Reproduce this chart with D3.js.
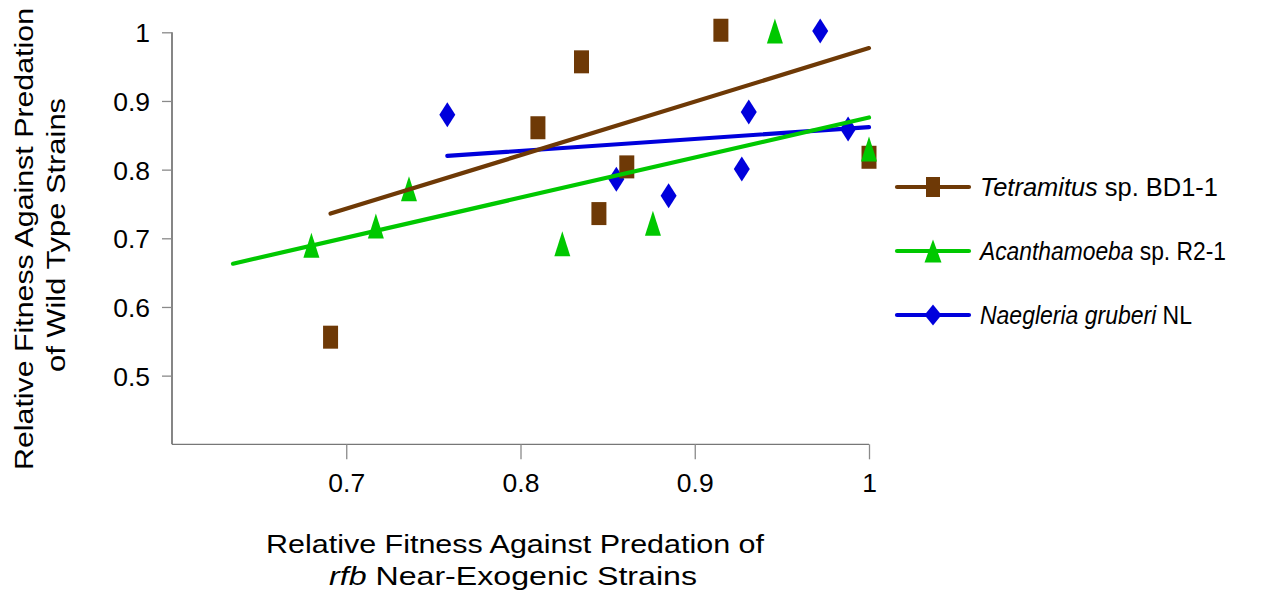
<!DOCTYPE html>
<html>
<head>
<meta charset="utf-8">
<script src="https://cdn.jsdelivr.net/npm/d3@7"></script>
<style>
  html, body { margin: 0; padding: 0; background: #fff; }
  svg { display: block; font-family: "Liberation Sans", Arial, Helvetica, sans-serif; }
</style>
</head>
<body>
<svg id="chart" width="1269" height="596"></svg>
<script>
// Relative fitness: x = against rfb near-exogenic strains, y = against wild type strains
const tetramitusX = [0.691, 0.810, 0.835, 0.915, 0.861, 0.845, 1.000];
const tetramitusY = [0.556, 0.861, 0.957, 1.003, 0.804, 0.736, 0.818];

const acanthamoebaX = [0.680, 0.717, 0.736, 0.824, 0.876, 0.946, 1.000];
const acanthamoebaY = [0.690, 0.718, 0.772, 0.692, 0.722, 1.002, 0.830];

const naegleriaX = [0.758, 0.855, 0.885, 0.927, 0.931, 0.972, 0.988];
const naegleriaY = [0.880, 0.786, 0.762, 0.801, 0.884, 1.002, 0.859];

// Linear trend lines (start and end of each fit)
const tetramitusFitX = [0.691, 1.000];
const tetramitusFitY = [0.736, 0.977];
const acanthamoebaFitX = [0.635, 1.000];
const acanthamoebaFitY = [0.663, 0.876];
const naegleriaFitX = [0.758, 1.000];
const naegleriaFitY = [0.820, 0.862];

const xTicks = [0.7, 0.8, 0.9, 1.0];
const yTicks = [0.5, 0.6, 0.7, 0.8, 0.9, 1.0];
const xTickLabels = ["0.7", "0.8", "0.9", "1"];
const yTickLabels = ["0.5", "0.6", "0.7", "0.8", "0.9", "1"];

const seriesNames = ["Tetramitus", "Acanthamoeba", "Naegleria gruberi"];
const seriesSuffix = ["sp. BD1-1", "sp. R2-1", "NL"];
const seriesColors = ["#6e3906", "#00c800", "#0000dc"];
const seriesShapes = ["square", "triangle", "diamond"];
const legendTextWidths = [238, 246, 212];

const series = [
  { x: tetramitusX, y: tetramitusY, fx: tetramitusFitX, fy: tetramitusFitY },
  { x: acanthamoebaX, y: acanthamoebaY, fx: acanthamoebaFitX, fy: acanthamoebaFitY },
  { x: naegleriaX, y: naegleriaY, fx: naegleriaFitX, fy: naegleriaFitY }
].map((s, i) => ({
  ...s,
  name: seriesNames[i],
  suffix: seriesSuffix[i],
  color: seriesColors[i],
  shape: seriesShapes[i],
  labelWidth: legendTextWidths[i]
}));

const svg = d3.select("#chart");
svg.append("rect").attr("width", 1269).attr("height", 596).attr("fill", "#fff");

const x = d3.scaleLinear().domain([0.6, 1.0]).range([172, 869]);
const y = d3.scaleLinear().domain([0.4, 1.0]).range([444.3, 32.3]);

// Marker outlines, centred on (0,0)
function markerPath(shape, w, h) {
  const p = d3.path();
  if (shape === "square") {
    p.rect(-w / 2, -h / 2, w, h);
  } else if (shape === "triangle") {
    p.moveTo(0, -h / 2); p.lineTo(w / 2, h / 2); p.lineTo(-w / 2, h / 2); p.closePath();
  } else {
    p.moveTo(0, -h / 2); p.lineTo(w / 2, 0); p.lineTo(0, h / 2); p.lineTo(-w / 2, 0); p.closePath();
  }
  return p.toString();
}
const markerSize = { square: [15, 23], triangle: [16, 25], diamond: [16, 25] };

// Axes
const axisG = svg.append("g");
const yAxis = axisG.append("g").attr("transform", `translate(${x(0.6)},0)`)
  .call(d3.axisLeft(y).tickValues(yTicks).tickSize(10).tickPadding(12)
    .tickFormat((d, i) => yTickLabels[i]));
yAxis.select(".domain").attr("d", `M0,${y(1.0)}V${y(0.4)}`).attr("stroke", "#444").attr("stroke-width", 1.3);
yAxis.selectAll(".tick line").attr("stroke", "#8a8a8a").attr("stroke-width", 1.3);
yAxis.selectAll(".tick text").attr("fill", "#000").style("font-size", "26.5px")
  .style("font-family", "'Liberation Sans', Arial, sans-serif").attr("dy", "0.36em");

const xAxis = axisG.append("g").attr("transform", `translate(0,${y(0.4)})`)
  .call(d3.axisBottom(x).tickValues(xTicks).tickSize(15).tickPadding(14)
    .tickFormat((d, i) => xTickLabels[i]));
xAxis.select(".domain").attr("d", `M${x(0.6)},0H${x(1.0)}`).attr("stroke", "#777").attr("stroke-width", 1.3);
xAxis.selectAll(".tick line").attr("stroke", "#8a8a8a").attr("stroke-width", 1.3);
xAxis.selectAll(".tick text").attr("fill", "#000").style("font-size", "26.5px")
  .style("font-family", "'Liberation Sans', Arial, sans-serif");

// Markers (blue first so the squares and triangles sit above)
const drawOrder = [2, 0, 1];
drawOrder.forEach(i => {
  const s = series[i];
  const [w, h] = markerSize[s.shape];
  svg.append("g").selectAll("path")
    .data(s.x.map((v, k) => [v, s.y[k]]))
    .join("path")
    .attr("d", markerPath(s.shape, w, h))
    .attr("transform", d => `translate(${x(d[0])},${y(d[1])})`)
    .attr("fill", s.color);
});

// Trend lines
const line = d3.line().x(d => x(d[0])).y(d => y(d[1]));
[2, 0, 1].forEach(i => {
  const s = series[i];
  svg.append("path")
    .attr("d", line(s.fx.map((v, k) => [v, s.fy[k]])))
    .attr("fill", "none")
    .attr("stroke", s.color)
    .attr("stroke-width", 4.2)
    .attr("stroke-linecap", "round");
});

// Legend: italic genus name followed by the strain, squeezed to a set width
const legend = svg.append("g").attr("transform", "translate(897,187)");
series.forEach((s, i) => {
  const g = legend.append("g").attr("transform", `translate(0,${i * 64})`);
  g.append("line").attr("x1", 0).attr("x2", 72).attr("y1", 0).attr("y2", 0)
    .attr("stroke", s.color).attr("stroke-width", 4.2).attr("stroke-linecap", "round");
  const lw = s.shape === "square" ? [14, 20] : s.shape === "triangle" ? [17, 23] : [17, 21];
  g.append("path").attr("d", markerPath(s.shape, lw[0], lw[1]))
    .attr("transform", "translate(36,0)").attr("fill", s.color);

  const label = g.append("g");
  const italicPart = label.append("text").attr("x", 0).attr("y", 0).attr("dy", "0.34em")
    .style("font-size", "25.5px").style("font-style", "italic").attr("fill", "#000")
    .text(s.name);
  const w1 = italicPart.node().getComputedTextLength();
  const gap = 7;
  const plainPart = label.append("text").attr("x", w1 + gap).attr("y", 0).attr("dy", "0.34em")
    .style("font-size", "25.5px").attr("fill", "#000")
    .text(s.suffix);
  const w2 = plainPart.node().getComputedTextLength();
  const sx = s.labelWidth / (w1 + gap + w2);
  label.attr("transform", `translate(83,0) scale(${sx},1)`);
});

// Axis titles
const xt = svg.append("g").attr("fill", "#000").style("font-size", "25px");
xt.append("text").attr("x", 515).attr("y", 553).attr("text-anchor", "middle")
  .attr("textLength", 498).attr("lengthAdjust", "spacingAndGlyphs")
  .text("Relative Fitness Against Predation of");
const xt2 = xt.append("text").attr("x", 513).attr("y", 585).attr("text-anchor", "middle")
  .attr("textLength", 368).attr("lengthAdjust", "spacingAndGlyphs");
xt2.append("tspan").style("font-style", "italic").text("rfb");
xt2.append("tspan").text(" Near-Exogenic Strains");

const yt = svg.append("g").attr("fill", "#000").style("font-size", "25px");
yt.append("text").attr("transform", "translate(33,239) rotate(-90)").attr("text-anchor", "middle")
  .attr("textLength", 462).attr("lengthAdjust", "spacingAndGlyphs")
  .text("Relative Fitness Against Predation");
yt.append("text").attr("transform", "translate(65,235) rotate(-90)").attr("text-anchor", "middle")
  .attr("textLength", 274).attr("lengthAdjust", "spacingAndGlyphs")
  .text("of Wild Type Strains");
</script>
</body>
</html>
